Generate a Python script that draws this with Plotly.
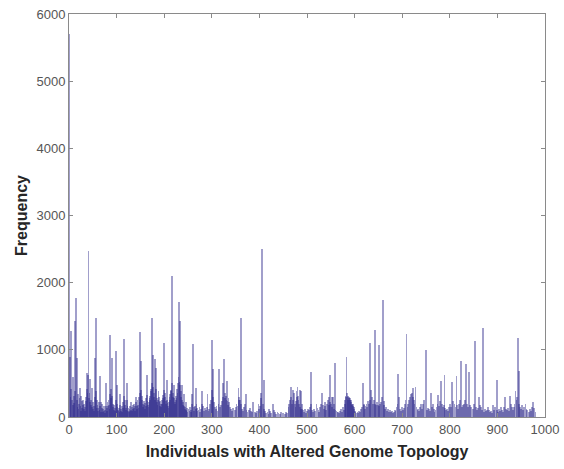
import numpy as np
import plotly.graph_objects as go

# Prominent bars: individual index -> frequency
peak_idx = [0, 5, 12, 15, 16, 23, 28, 37, 41, 44, 48, 55, 56, 65, 68, 78, 81, 87, 90, 98,
            100, 107, 116, 121, 131, 140, 150, 152, 163, 169, 175, 177, 180, 183, 188, 199,
            205, 216, 220, 231, 233, 238, 241, 245, 258, 261, 267, 280, 291, 301, 303, 316,
            326, 332, 336, 356, 361, 371, 387, 398, 405, 410, 421, 428, 466, 470, 480, 485,
            487, 508, 520, 532, 538, 548, 555, 559, 562, 582, 583, 590, 597, 618, 625, 632,
            634, 643, 651, 659, 692, 694, 709, 718, 723, 728, 740, 750, 760, 776, 781, 789,
            805, 814, 823, 834, 841, 853, 861, 870, 891, 899, 916, 926, 938, 944, 945, 959, 975]
peak_val = [5700, 1280, 1430, 1775, 880, 436, 238, 660, 2470, 560, 430, 880, 1470, 610, 220,
            510, 230, 1220, 880, 990, 480, 340, 1155, 500, 220, 300, 1270, 840, 625, 280, 1470,
            930, 870, 730, 380, 1105, 550, 2100, 480, 1715, 1430, 480, 340, 230, 340, 1080, 430,
            390, 340, 1145, 710, 710, 870, 540, 220, 430, 1470, 340, 220, 200, 2495, 550, 120,
            200, 445, 400, 445, 400, 380, 675, 200, 360, 230, 625, 300, 810, 90, 300, 900, 280,
            200, 500, 200, 1100, 400, 1300, 1070, 1740, 635, 300, 1230, 340, 430, 445, 200,
            1005, 360, 330, 535, 620, 525, 615, 830, 785, 675, 1130, 300, 1330, 180, 545, 300,
            310, 380, 1170, 680, 200, 220]

# Low background bars: index -> frequency
low = {
    2: 900, 3: 300, 4: 420, 7: 250, 8: 180, 9: 600, 10: 320, 11: 210, 13: 380, 17: 260, 18: 150,
    19: 340, 20: 120, 21: 200, 22: 280, 24: 160, 25: 90, 26: 310, 27: 140, 29: 180, 30: 260,
    31: 120, 32: 200, 33: 90, 34: 150, 35: 240, 36: 300, 38: 420, 39: 350, 40: 620, 42: 280,
    43: 360, 45: 220, 46: 180, 47: 260, 49: 150, 50: 120, 51: 230, 52: 90, 53: 170, 54: 300,
    57: 380, 58: 250, 59: 140, 60: 180, 61: 90, 62: 140, 63: 230, 64: 110, 66: 160, 67: 80,
    69: 130, 70: 190, 71: 70, 72: 120, 73: 90, 74: 160, 75: 60, 76: 110, 77: 170, 79: 140,
    80: 90, 82: 160, 83: 260, 84: 180, 85: 120, 86: 340, 88: 280, 89: 420, 91: 310, 92: 200,
    93: 150, 94: 110, 95: 180, 96: 90, 97: 130, 99: 260, 101: 200, 102: 150, 103: 110, 104: 90,
    105: 140, 106: 80, 108: 180, 109: 120, 110: 90, 111: 160, 112: 70, 113: 140, 114: 220,
    115: 310, 117: 260, 118: 180, 119: 140, 120: 110, 122: 250, 123: 160, 124: 90, 125: 140,
    126: 70, 127: 120, 128: 90, 129: 160, 130: 110, 132: 150, 133: 90, 134: 180, 135: 120,
    136: 200, 137: 140, 138: 90, 139: 160, 141: 220, 142: 170, 143: 120, 144: 260, 145: 180,
    146: 140, 147: 300, 148: 220, 149: 350, 151: 400, 153: 310, 154: 260, 155: 200, 156: 150,
    157: 240, 158: 180, 159: 120, 160: 210, 161: 160, 162: 280, 164: 330, 165: 240, 166: 180,
    167: 150, 168: 220, 170: 310, 171: 260, 172: 420, 173: 380, 174: 500, 176: 450, 178: 360,
    179: 300, 181: 260, 182: 410, 184: 290, 185: 220, 186: 180, 187: 260, 189: 300, 190: 220,
    191: 170, 192: 240, 193: 190, 194: 150, 195: 200, 196: 260, 197: 330, 198: 280, 200: 400,
    201: 350, 202: 300, 203: 240, 204: 190, 206: 260, 207: 210, 208: 170, 209: 140, 210: 220,
    211: 300, 212: 260, 213: 340, 214: 400, 215: 380, 217: 500, 218: 350, 219: 300, 221: 280,
    222: 230, 223: 190, 224: 260, 225: 320, 226: 280, 227: 420, 228: 360, 229: 500, 230: 600,
    232: 520, 234: 480, 235: 380, 236: 300, 237: 260, 239: 220, 240: 180, 242: 160, 243: 120,
    244: 150, 246: 110, 247: 90, 248: 140, 249: 80, 251: 120, 253: 90, 255: 150, 256: 80,
    257: 110, 259: 200, 262: 150, 263: 90, 265: 160, 266: 120, 268: 200, 269: 140, 270: 90,
    272: 110, 274: 150, 276: 80, 278: 120, 279: 200, 282: 160, 284: 90, 286: 130, 288: 110,
    290: 150, 293: 90, 295: 120, 297: 200, 299: 260, 300: 400, 302: 300, 304: 220, 306: 150,
    308: 120, 310: 160, 312: 90, 314: 200, 318: 150, 320: 180, 322: 240, 323: 300, 324: 500,
    327: 350, 328: 280, 330: 320, 331: 260, 333: 240, 334: 180, 335: 280, 338: 150, 340: 120,
    343: 90, 345: 140, 348: 110, 350: 150, 352: 200, 354: 170, 357: 250, 358: 300, 359: 260,
    362: 200, 364: 120, 366: 90, 368: 150, 370: 200, 373: 110, 375: 80, 378: 100, 380: 140,
    383: 90, 385: 70, 390: 80, 392: 60, 395: 90, 400: 120, 402: 160, 403: 280, 404: 350,
    407: 200, 409: 120, 412: 90, 414: 60, 417: 80, 419: 50, 423: 90, 425: 60, 430: 100,
    432: 70, 435: 50, 438: 80, 440: 60, 443: 50, 446: 70, 450: 60, 453: 50, 456: 80, 458: 60,
    461: 150, 463: 200, 465: 250, 467: 300, 468: 200, 471: 260, 472: 350, 474: 200, 476: 150,
    477: 240, 478: 380, 479: 300, 481: 320, 482: 250, 484: 200, 486: 150, 488: 120, 489: 200,
    490: 120, 492: 100, 494: 80, 496: 120, 498: 60, 500: 90, 502: 120, 504: 100, 506: 150,
    509: 200, 511: 100, 513: 80, 515: 120, 517: 90, 522: 140, 524: 100, 526: 80, 528: 150,
    530: 200, 533: 180, 535: 120, 537: 160, 540: 100, 542: 200, 544: 260, 546: 180, 547: 300,
    549: 220, 551: 200, 552: 150, 553: 300, 556: 200, 557: 120, 560: 100, 564: 80, 566: 70,
    568: 60, 570: 90, 572: 120, 574: 80, 576: 150, 578: 100, 579: 200, 580: 260, 581: 320,
    584: 350, 585: 300, 586: 250, 587: 320, 588: 280, 589: 300, 591: 260, 592: 220, 593: 250,
    594: 200, 595: 180, 596: 160, 598: 150, 599: 120, 600: 90, 602: 70, 604: 60, 606: 80,
    608: 60, 610: 90, 612: 70, 614: 120, 616: 150, 619: 200, 620: 180, 622: 120, 623: 160,
    626: 150, 628: 240, 630: 200, 633: 260, 636: 300, 638: 200, 640: 250, 642: 200, 645: 180,
    647: 220, 649: 180, 652: 160, 654: 200, 656: 220, 658: 300, 661: 240, 662: 180, 664: 120,
    666: 150, 668: 90, 670: 120, 672: 80, 674: 100, 676: 70, 678: 90, 680: 60, 682: 80,
    684: 110, 686: 90, 688: 150, 690: 200, 696: 120, 698: 90, 700: 150, 702: 100, 704: 140,
    706: 200, 707: 260, 711: 150, 713: 200, 715: 260, 716: 300, 720: 350, 722: 300, 725: 250,
    726: 200, 730: 150, 732: 100, 734: 120, 736: 90, 738: 150, 742: 120, 744: 200, 746: 260,
    752: 100, 754: 140, 756: 120, 758: 90, 762: 150, 764: 200, 766: 120, 768: 80, 770: 100,
    772: 150, 774: 200, 778: 160, 780: 240, 783: 200, 785: 150, 787: 180, 790: 140, 792: 100,
    794: 120, 796: 90, 798: 150, 800: 200, 802: 150, 807: 240, 810: 200, 812: 150, 816: 180,
    818: 120, 820: 200, 822: 260, 826: 150, 828: 180, 830: 200, 832: 250, 836: 200, 838: 150,
    843: 180, 845: 150, 848: 120, 850: 200, 855: 150, 857: 100, 859: 140, 863: 180, 865: 150,
    867: 100, 872: 80, 874: 120, 876: 90, 878: 100, 880: 150, 882: 100, 884: 70, 886: 90,
    888: 60, 893: 100, 895: 150, 900: 100, 902: 80, 904: 120, 906: 90, 908: 150, 910: 100,
    912: 80, 914: 150, 918: 120, 920: 100, 922: 140, 924: 90, 928: 200, 930: 150, 932: 100,
    934: 150, 936: 200, 940: 250, 942: 300, 946: 200, 948: 150, 950: 120, 952: 180, 954: 100,
    956: 150, 961: 120, 963: 100, 966: 80, 968: 120, 970: 90, 973: 150, 977: 130, 980: 80,
}

n_individuals = 1000
x_ticks = list(range(0, 1001, 100))
y_ticks = list(range(0, 6001, 1000))

freq = np.zeros(n_individuals)
for i, v in low.items():
    freq[i] = v
for i, v in zip(peak_idx, peak_val):
    freq[i] = max(freq[i], v)

fig = go.Figure(go.Bar(
    x=np.arange(n_individuals), y=freq, width=1.8,
    marker=dict(color="#2e2b8c", opacity=0.45, line=dict(width=0)),
))

axis_common = dict(
    showgrid=False, zeroline=False, showline=True, mirror="ticks", automargin=False,
    linecolor="#8a8a8a", linewidth=1, ticks="inside", ticklen=4,
    tickcolor="#8a8a8a", tickfont=dict(family="Liberation Sans, Arial", size=13, color="#555555"),
)
title_font = dict(family="Liberation Sans, Arial", size=16, color="#262626")
fig.update_layout(
    width=564, height=469,
    margin=dict(l=69, r=19, t=14, b=52),
    paper_bgcolor="white", plot_bgcolor="white",
    showlegend=False, bargap=0, barmode="overlay",
    xaxis=dict(range=[0, 1000], tickvals=x_ticks, **axis_common,
               title=dict(text="<b>Individuals with Altered Genome Topology</b>",
                          font=title_font, standoff=10)),
    yaxis=dict(range=[0, 6000], tickvals=y_ticks, **axis_common,
               title=dict(text="<b>Frequency</b>", font=title_font, standoff=4)),
)
fig.write_html("out.html")
